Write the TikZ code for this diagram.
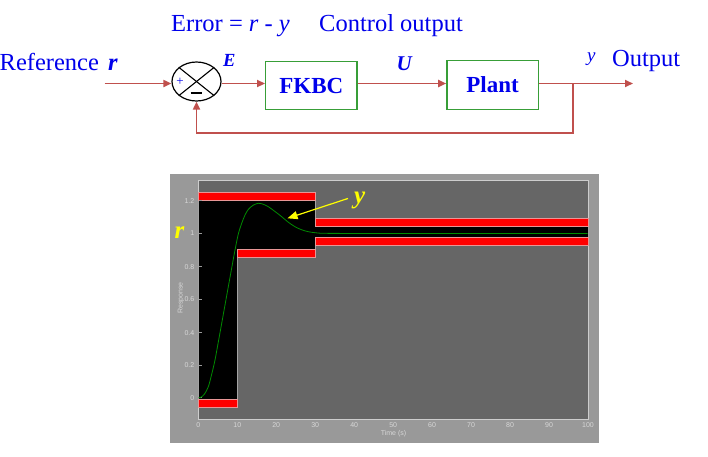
\documentclass[tikz,border=0pt]{standalone}
\usepackage{fontspec}
\setmainfont{Liberation Serif}
\setsansfont{Liberation Sans}
\usetikzlibrary{arrows.meta,shapes.geometric}
\definecolor{txtblue}{RGB}{0,0,235}
\definecolor{sigred}{RGB}{192,80,77}
\definecolor{boxgreen}{RGB}{56,158,56}
\definecolor{chartout}{RGB}{153,153,153}
\definecolor{plotbg}{RGB}{102,102,102}
\definecolor{framegray}{RGB}{205,205,205}
\definecolor{ticklab}{RGB}{215,215,215}
\definecolor{bandred}{RGB}{255,0,0}
\definecolor{bandedge}{RGB}{232,150,150}
\definecolor{curvegreen}{RGB}{0,140,0}
\definecolor{hiyellow}{RGB}{255,255,0}
\tikzset{
  lbl/.style={inner sep=0pt, anchor=base west, text=txtblue},
  big/.style={font=\fontsize{24.5}{28}\selectfont},
  blockbox/.style={draw=boxgreen, line width=1.3pt, minimum width=91.3pt, minimum height=48.5pt, inner sep=0pt, text=txtblue, font=\fontsize{23}{26}\selectfont\bfseries},
  sig/.style={draw=sigred, line width=1.8pt, -{Triangle[length=8pt,width=7pt]}},
  sigline/.style={draw=sigred, line width=1.8pt},
  band/.style={fill=bandred, draw=bandedge, line width=0.6pt},
  okzone/.style={fill=black, draw=framegray!80!black, line width=0.5pt},
  ticktxt/.style={text=ticklab, font=\sffamily\fontsize{7}{8}\selectfont, inner sep=0pt},
  tickmark/.style={draw=chartout, line width=0.6pt},
  ylw/.style={text=hiyellow, font=\fontsize{25}{28}\selectfont\bfseries\itshape, inner sep=0pt, anchor=base west}
}
\begin{document}
\begin{tikzpicture}[x=1pt,y=-1pt]
\useasboundingbox[fill=white] (0,0) rectangle (708,456);

% ---------- block diagram ----------
\node[lbl,big] (errlab) at (171,31) {Error = \textit{r} - \textit{y}};
\node[lbl,big] (ctrllab) at (319,31) {Control output};
\node[lbl,big] (reflab) at (-0.5,70) {Reference};
\node[lbl,big] (rlab) at (108,70) {\textbf{\textit{r}}};
\node[lbl,font=\fontsize{19}{22}\selectfont\itshape] (ylab) at (587,61) {y};
\node[lbl,big] (outlab) at (612,66.7) {Output};
\node[lbl,font=\fontsize{18.5}{22}\selectfont\bfseries\itshape] (elab) at (223,66.5) {E};
\node[lbl,font=\fontsize{21}{24}\selectfont\bfseries\itshape] (ulab) at (396.5,70) {U};

\node[draw=black, line width=1.2pt, ellipse, minimum width=49pt, minimum height=39pt, inner sep=0pt] (sum) at (196.5,81.5) {};
\draw[line width=1.1pt] (sum.north west) -- (sum.south east);
\draw[line width=1.1pt] (sum.north east) -- (sum.south west);
\node[text=txtblue, inner sep=0pt, font=\fontsize{13}{14}\selectfont] (plus) at (180,81.5) {+};
\node[inner sep=0pt, font=\fontsize{16}{18}\selectfont\bfseries] (minus) at (196,93) {\rule{11pt}{1.6pt}};

\node[blockbox] (fkbc) at (311.35,85.5) {FKBC};
\node[blockbox] (plant) at (492.5,84.9) {Plant};

\coordinate (refstart) at (104.5,83.5);
\coordinate (outend) at (633,83.5);
\coordinate (branch) at (573,83.5);
\coordinate (fbcorner) at (573,133);

\draw[sig] (refstart) -- (refstart -| sum.west);
\draw[sig] (refstart -| sum.east) -- (refstart -| fkbc.west);
\draw[sig] (refstart -| fkbc.east) -- (refstart -| plant.west);
\draw[sig] (refstart -| plant.east) -- (outend);
\draw[sig] (branch) -- (fbcorner) -| (sum.south);

% ---------- response chart ----------
\fill[chartout] (170,174) rectangle (599,443);
\filldraw[fill=plotbg, draw=framegray, line width=0.9pt] (198.3,180.7) rectangle (588,419);

\filldraw[okzone] (198.3,200.7) rectangle (237.7,399);
\filldraw[okzone] (237.7,200.7) rectangle (315.5,249.3);
\filldraw[okzone] (315.5,226) rectangle (588,237.7);
\fill[black] (199,201.2) rectangle (237.2,249);
\fill[black] (237.2,201.2) rectangle (315,248.8);
\fill[black] (315,226.5) rectangle (587.5,237.2);

\filldraw[band] (198.3,192.3) rectangle (315.5,200.7);
\filldraw[band] (198.3,399) rectangle (237.7,407.3);
\filldraw[band] (237.7,249.3) rectangle (315.5,257.3);
\filldraw[band] (315.5,218.3) rectangle (588,226);
\filldraw[band] (315.5,237.7) rectangle (588,245.3);

% y ticks
\foreach \v/\yy in {1.2/200.7,1/233.3,0.8/266.7,0.6/299.3,0.4/332.7,0.2/365.3,0/397.7}{
  \draw[tickmark] (198.8,\yy) -- (202.3,\yy);
  \node[ticktxt, anchor=east] at (194.5,\yy) {\v};
}
% x tick labels
\foreach \t in {0,10,...,100}{
  \node[ticktxt] at ({198.3+3.897*\t},425) {\t};
}
\node[ticktxt] (timelab) at (393.5,433.7) {Time (s)};
\node[ticktxt, rotate=90] (resplab) at (181,298) {Response};

% response curve
\draw[curvegreen, line width=0.8pt] plot[smooth, tension=0.55] coordinates {
 (198.5,397.7) (201,397.2) (204.5,394) (208.3,386.7) (211.5,375) (215,360)
 (218.3,342) (221.7,323.3) (225,305) (228.3,286.7) (231.7,268) (235,250)
 (238.3,234) (241.7,223.3) (245,215) (248.3,209.5) (253,205.3) (258.3,203.3)
 (263,204.2) (268.3,206.7) (275,211.5) (281.7,216.7) (288,222) (295,226.7)
 (301.5,229.7) (308.3,231.7) (316,232.8) (325,233.3) (360,233.4) (587.5,233.4)};

% yellow labels
\node[ylw] (ry) at (174.5,238) {r};
\node[ylw] (yy) at (354,203) {y};
\coordinate (ytip) at (287.5,218.3);
\draw[hiyellow, line width=1.2pt, -{Triangle[length=10pt,width=8pt]}] (yy.west) ++(-6,-1.5) -- (ytip);
\end{tikzpicture}
\end{document}
